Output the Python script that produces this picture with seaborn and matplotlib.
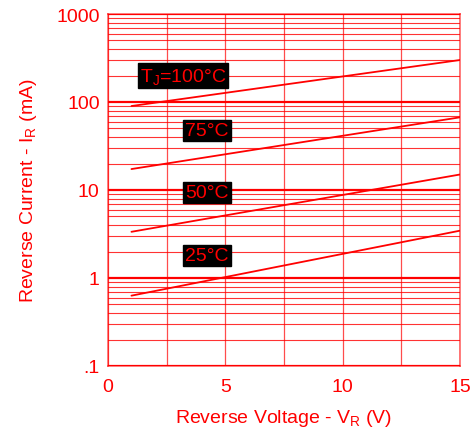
import numpy as np
import pandas as pd
import matplotlib
matplotlib.use("Agg")
import matplotlib.pyplot as plt
import seaborn as sns
from matplotlib.ticker import FixedLocator, LogLocator, NullFormatter

sns.set_style("white")
plt.rcParams['font.family'] = ['Liberation Sans', 'DejaVu Sans']
plt.rcParams['mathtext.default'] = 'regular'

voltage = [1, 15]
i_25 = [0.63, 3.45]
i_50 = [3.35, 15.0]
i_75 = [17.3, 67.0]
i_100 = [90.0, 300.0]
temps = ['25°C', '50°C', '75°C', '100°C']

df = pd.DataFrame({
    'V': voltage * 4,
    'I': i_25 + i_50 + i_75 + i_100,
    'T': [t for t in temps for _ in voltage],
})

red = '#ff0000'
fig = plt.figure(figsize=(4.77, 4.35), dpi=100)
ax = fig.add_axes([108 / 477, 1 - 367 / 435, 352 / 477, 352 / 435])

sns.lineplot(data=df, x='V', y='I', hue='T', palette=[red] * 4,
             legend=False, linewidth=1.3, ax=ax)

ax.set_yscale('log')
ax.set_xlim(0, 15)
ax.set_ylim(0.1, 1000)

ax.xaxis.set_major_locator(FixedLocator([0, 5, 10, 15]))
ax.xaxis.set_minor_locator(FixedLocator([2.5, 7.5, 12.5]))
ax.yaxis.set_major_locator(FixedLocator([0.1, 1, 10, 100, 1000]))
ax.yaxis.set_minor_locator(LogLocator(base=10, subs=np.arange(2, 10)))
ax.yaxis.set_minor_formatter(NullFormatter())
ax.set_yticklabels(['.1', '1', '10', '100', '1000'])

ax.grid(True, which='major', axis='y', color=red, linewidth=1.6)
ax.grid(True, which='minor', axis='y', color=red, linewidth=0.8, alpha=0.8)
ax.grid(True, which='both', axis='x', color=red, linewidth=0.9, alpha=0.7)

ax.tick_params(axis='both', which='both', length=0, colors=red, labelsize=14)
ax.tick_params(axis='y', pad=6)
ax.tick_params(axis='x', pad=9)
for s in ax.spines.values():
    s.set_color(red)
    s.set_alpha(0.6)
    s.set_linewidth(1.2)

ax.set_xlabel('Reverse Voltage - V$_R$ (V)', color=red, fontsize=14, labelpad=8)
ax.set_ylabel('Reverse Current - I$_R$ (mA)', color=red, fontsize=14, labelpad=12)

box = dict(facecolor='black', edgecolor='black', pad=1.5)
ax.text(1.35, 200, 'T$_J$=100°C', color=red, fontsize=14, va='center', bbox=box)
ax.text(3.3, 47, '75°C', color=red, fontsize=14, va='center', bbox=box)
ax.text(3.3, 9.3, '50°C', color=red, fontsize=14, va='center', bbox=box)
ax.text(3.3, 1.8, '25°C', color=red, fontsize=14, va='center', bbox=box)

fig.savefig('out.png', dpi=100)
